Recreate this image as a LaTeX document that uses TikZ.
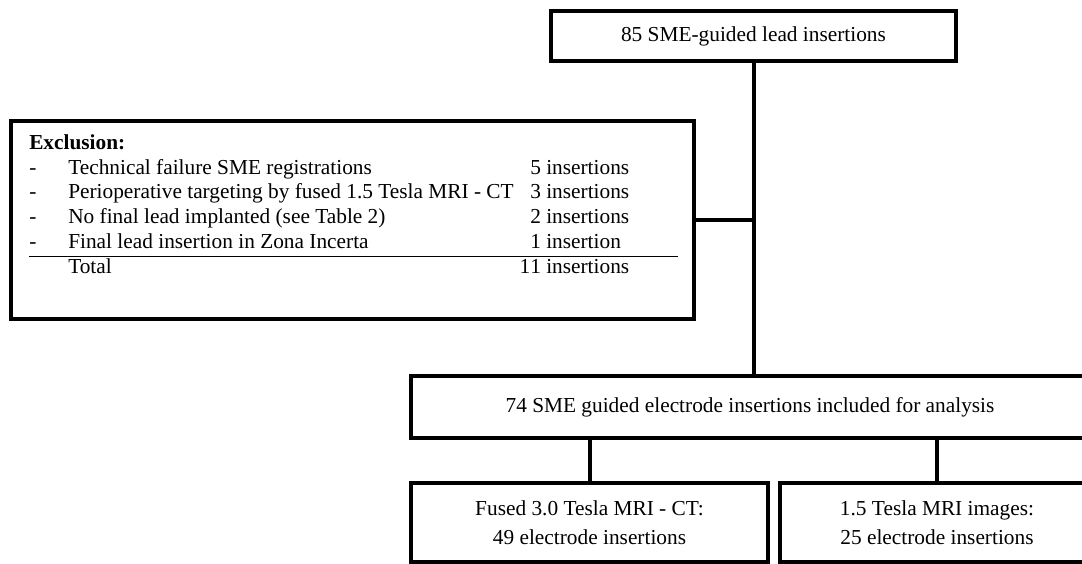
\documentclass[tikz,border=0pt]{standalone}
\usepackage{fontspec}
\setmainfont{Liberation Serif}
\usepackage{array}
\usetikzlibrary{positioning}

\begin{document}
\begin{tikzpicture}[
    x=0.75pt, y=-0.75pt,
    box/.style={rectangle, draw, line width=3pt, inner sep=0pt, align=center, font=\fontsize{16}{18.6}\selectfont},
    line/.style={line width=3pt}
]
\path[use as bounding box, clip] (0,0) rectangle (1082,564);

% Top of the flow
\node[box, minimum width=303.75pt, minimum height=37.5pt] (total) at (753.5,36) {85 SME-guided lead insertions};

% Exclusion box on the left
\node[box, minimum width=512.25pt, minimum height=148.5pt] (excl) at (352.5,220) {};
\node[anchor=north west, inner sep=0pt, font=\fontsize{16}{18.5}\selectfont] (exclist) at (29,132) {%
  \setlength{\tabcolsep}{0pt}%
  \begin{tabular}{p{29.25pt}p{346.5pt}p{111pt}}
    \multicolumn{3}{l}{\textbf{Exclusion:}}\\
    - & Technical failure SME registrations & 5 insertions\\
    - & Perioperative targeting by fused 1.5 Tesla MRI - CT & 3 insertions\\
    - & No final lead implanted (see Table 2) & 2 insertions\\
    - & Final lead insertion in Zona Incerta & 1 insertion\\
    \hline
      & Total & \leavevmode\llap{1}1 insertions\\
  \end{tabular}};

% Included for analysis
\node[box, minimum width=508.5pt, minimum height=46.5pt] (incl) at (750,407) {74 SME guided electrode insertions included for analysis};

% Split by imaging
\node[box, minimum width=267.75pt, minimum height=59.25pt] (fused) at (589.5,522.5) {Fused 3.0 Tesla MRI - CT:\\[3pt]49 electrode insertions};
\node[box, minimum width=235.5pt, minimum height=59.25pt] (mri) at (937,522.5) {1.5 Tesla MRI images:\\[3pt]25 electrode insertions};

% Connectors
\draw[line] (total.south) -- (total.south |- incl.north);
\draw[line] (excl.east) -- (excl.east -| total.south);
\draw[line] (fused.north) -- (fused.north |- incl.south);
\draw[line] (mri.north) -- (mri.north |- incl.south);
\end{tikzpicture}
\end{document}
